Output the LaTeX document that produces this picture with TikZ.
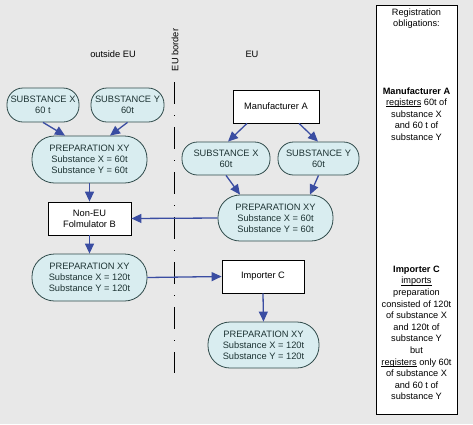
\documentclass[tikz,border=0pt]{standalone}
\usepackage{fontspec}
\setmainfont{Liberation Sans}
\usetikzlibrary{arrows.meta}
\definecolor{bg}{HTML}{E8E8E8}
\definecolor{pill}{HTML}{D9EDF0}
\definecolor{pillline}{HTML}{2F4A4A}
\definecolor{arr}{HTML}{3A4DA2}
\definecolor{pilltext}{HTML}{1E3434}
\newcommand\myul[1]{\setbox0\hbox{#1}\rlap{\rule[-1.3pt]{\wd0}{0.5pt}}\box0\relax}
\begin{document}
\begin{tikzpicture}[x=1pt,y=-1pt,
 pillbox/.style={draw=pillline, fill=pill, line width=0.8pt, text=pilltext, align=center, inner sep=0pt, font=\fontsize{9.3}{11}\selectfont},
 rectbox/.style={draw=black, fill=white, line width=0.8pt, align=center, inner sep=0pt, font=\fontsize{9.3}{11}\selectfont},
 flow/.style={draw=arr, line width=1.3pt, -{Triangle[length=10pt,width=9pt]}},
 lbl/.style={font=\fontsize{9.3}{11}\selectfont, inner sep=0pt},
 regtext/.style={font=\fontsize{9.2}{11.6}\selectfont, align=center, inner sep=0pt},
 ]
\fill[bg] (0,0) rectangle (473,424);
\useasboundingbox (0,0) rectangle (473,424);

% border line
\coordinate (bt) at (174,82);
\coordinate (bb) at (174,373);
\draw[line width=1pt, dash pattern=on 22pt off 11pt on 1pt off 11pt] (bt) -- (bb);

\node[lbl] (outside) at (113,54) {outside EU};
\node[lbl] (eu) at (252,54) {EU};
\node[lbl, rotate=90] (border) at (175,50) {EU border};

% nodes
\node[pillbox, minimum width=72pt, minimum height=34pt, rounded corners=16pt] (sxl) at (43,105) {SUBSTANCE X\\60 t};
\node[pillbox, minimum width=73pt, minimum height=34pt, rounded corners=16pt] (syl) at (127.5,105) {SUBSTANCE Y\\60t};
\node[pillbox, minimum width=115pt, minimum height=47pt, rounded corners=22.5pt] (pl1) at (89.5,159.5) {PREPARATION XY\\Substance X = 60t\\Substance Y = 60t};
\node[rectbox, minimum width=83pt, minimum height=33pt] (nonEU) at (89.5,218.5) {Non-EU\\Folmulator B};
\node[pillbox, minimum width=115pt, minimum height=47pt, rounded corners=22.5pt] (pl2) at (89.5,277.5) {PREPARATION XY\\Substance X = 120t\\Substance Y = 120t};

\node[rectbox, minimum width=86pt, minimum height=33pt] (manA) at (276,106.5) {Manufacturer A};
\node[pillbox, minimum width=88pt, minimum height=33pt, rounded corners=15.5pt] (sxr) at (226,158.5) {SUBSTANCE X\\60t};
\node[pillbox, minimum width=81pt, minimum height=33pt, rounded corners=15.5pt] (syr) at (318.5,158.5) {SUBSTANCE Y\\60t};
\node[pillbox, minimum width=115pt, minimum height=46pt, rounded corners=22pt] (pr1) at (275.5,218) {PREPARATION XY\\Substance X = 60t\\Substance Y = 60t};
\node[rectbox, minimum width=82pt, minimum height=33pt] (impC) at (263,276.5) {Importer C};
\node[pillbox, minimum width=111pt, minimum height=46pt, rounded corners=22pt] (pr2) at (263.5,345) {PREPARATION XY\\Substance X = 120t\\Substance Y = 120t};

% arrows
\draw[flow] (sxl.south) -- ([xshift=-24.5pt]pl1.north);
\draw[flow] (syl.south) -- ([xshift=20.5pt]pl1.north);
\draw[flow] (pl1.south) -- (nonEU.north);
\draw[flow] ([xshift=-29pt]manA.south) -- ([xshift=2pt]sxr.north);
\draw[flow] ([xshift=23pt]manA.south) -- ([xshift=-0.5pt]syr.north);
\draw[flow] (sxr.south) -- ([xshift=-35.5pt]pr1.north);
\draw[flow] (syr.south) -- ([xshift=34.5pt]pr1.north);
\draw[flow] (pr1.west) -- (nonEU.east);
\draw[flow] (nonEU.south) -- (pl2.north);
\draw[flow] (pl2.east) -- (impC.west);
\draw[flow] (impC.south) -- (pr2.north);

% registration box
\node[draw=black, fill=white, line width=0.8pt, minimum width=81pt, minimum height=409pt, inner sep=0pt] (reg) at (416.5,209.5) {};
\node[regtext] (t1) at (416.5,18.5) {Registration\\obligations:};
\node[regtext] (t2) at (416.5,114) {\textbf{Manufacturer A}\\\myul{registers} 60t of\\substance X\\and 60 t of\\substance Y};
\node[regtext] (t3) at (416.5,333) {\textbf{Importer C}\\\myul{imports}\\preparation\\consisted of 120t\\of substance X\\and 120t of\\substance Y\\but\\\myul{registers} only 60t\\of substance X\\and 60 t of\\substance Y};
\end{tikzpicture}
\end{document}
